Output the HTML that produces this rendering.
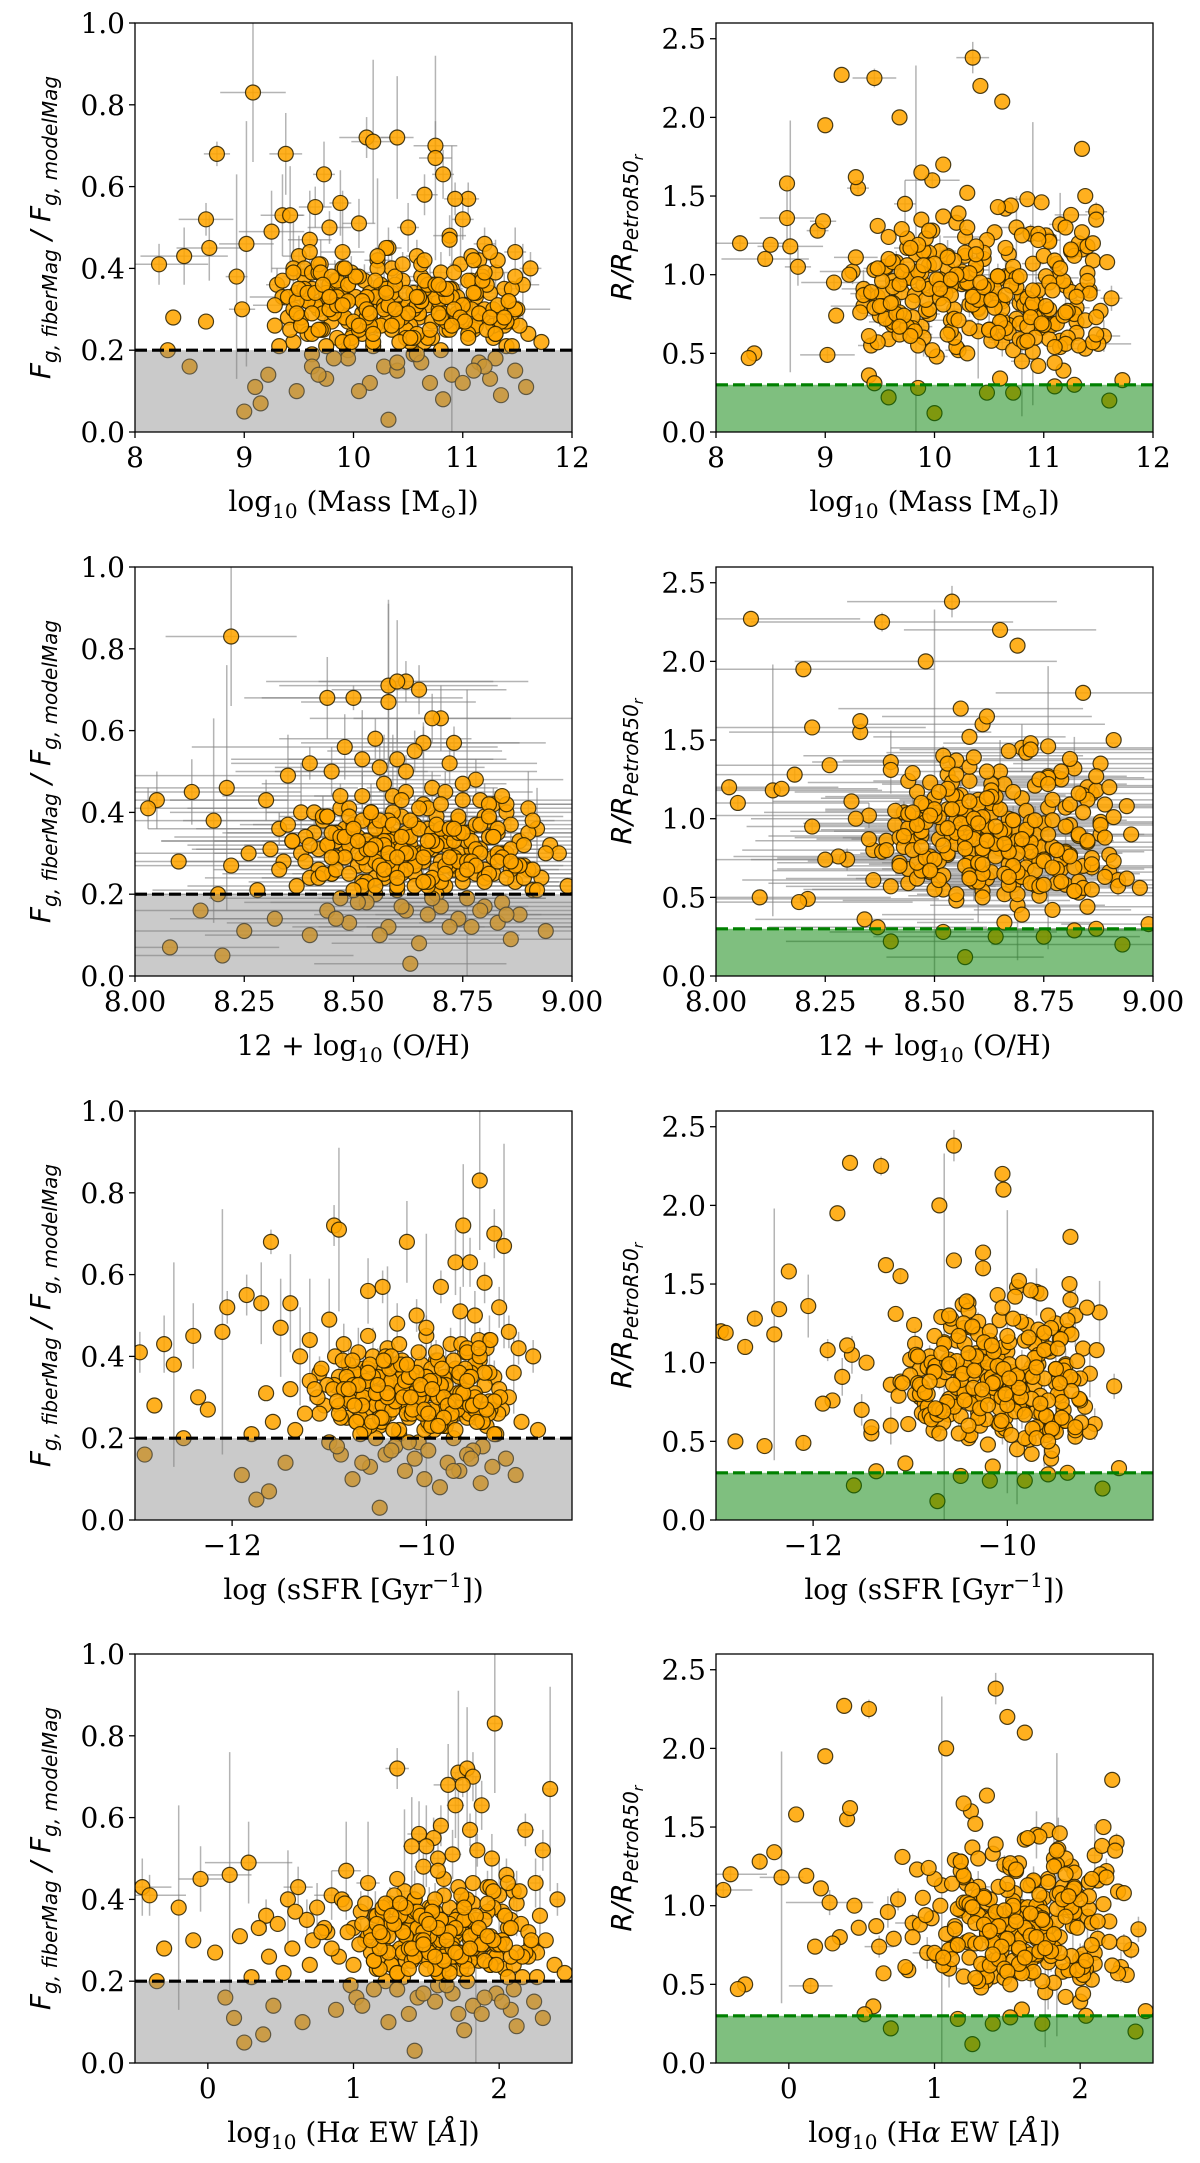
<!DOCTYPE html>
<html><head><meta charset="utf-8">
<style>
html,body{margin:0;padding:0;background:#fff;}
svg{display:block;}
.tick{font-family:"DejaVu Serif","Liberation Serif",serif;font-size:28px;fill:#000;}
.xl{font-family:"DejaVu Serif","Liberation Serif",serif;font-size:28px;fill:#000;}
.yl{font-family:"DejaVu Sans","Liberation Sans",sans-serif;font-size:28px;font-style:italic;fill:#000;}
</style></head>
<body>
<svg id="fig" width="1200" height="2163" viewBox="0 0 1200 2163" xmlns="http://www.w3.org/2000/svg">
<rect width="1200" height="2163" fill="#fff"/>
</svg>
<script>
// ---- galaxy data (shared across panels) ----
const fib = [0.83,0.72,0.71,0.72,0.70,0.68,0.68,0.67,0.63,0.63,0.58,0.57,0.57,0.56,0.55,0.53,0.53,0.52,0.52,0.51,
0.50,0.50,0.49,0.48,0.47,0.46,0.46,0.45,0.45,0.44,0.44,0.43,0.43,0.43,0.42,0.42,0.41,0.41,0.41,0.40,
0.40,0.40,0.39,0.39,0.39,0.38,0.38,0.38,0.37,0.37,0.37,0.37,0.36,0.36,0.36,0.36,0.35,0.35,0.35,0.35,
0.34,0.34,0.34,0.34,0.33,0.33,0.33,0.33,0.33,0.32,0.32,0.32,0.32,0.31,0.31,0.31,0.31,0.30,0.30,0.30,
0.30,0.30,0.29,0.29,0.29,0.29,0.28,0.28,0.28,0.28,0.27,0.27,0.27,0.27,0.26,0.26,0.26,0.26,0.25,0.25,
0.25,0.25,0.24,0.24,0.24,0.23,0.23,0.23,0.22,0.22,0.22,0.21,0.21,0.21,0.20,0.20,0.20,0.19,0.19,0.18,
0.18,0.17,0.17,0.16,0.16,0.16,0.15,0.15,0.14,0.14,0.13,0.13,0.12,0.12,0.11,0.11,0.10,0.10,0.09,0.08,
0.07,0.05,0.03,0.16,0.18,0.19,0.14,0.12,0.17,0.15,
0.36,0.31,0.27,0.42,0.33,0.29,0.24,0.38,0.35,0.30,0.26,0.40,0.32,0.28,0.23,0.37,0.34,0.29,0.25,0.44,
0.39,0.31,0.27,0.22,0.35,0.33,0.30,0.26,0.41,0.36,0.28,0.24,0.38,0.32,0.29,0.21,0.34,0.27,0.31,0.43,
0.30,0.25,0.36,0.33,0.28,0.39,0.26,0.35,0.32,0.23,0.37,0.29,0.34,0.27,0.31,0.40,0.24,0.33,0.30,0.36,
0.28,0.35,0.26,0.38,0.32,0.29,0.42,0.25,0.34,0.31,0.27,0.37,0.22,0.33,0.30,0.39,0.28,0.35,0.26,0.32,
0.31,0.27,0.35,0.24,0.38,0.29,0.33,0.26,0.41,0.30,0.22,0.36,0.28,0.34,0.25,0.39,0.32,0.27,0.45,0.30,
0.23,0.37,0.29,0.33,0.26,0.40,0.31,0.24,0.35,0.28,0.43,0.30,0.21,0.36,0.27,0.32,0.25,0.38,0.29,0.34,
0.26,0.31,0.39,0.23,0.35,0.28,0.33,0.47,0.30,0.25,0.37,0.29,0.32,0.22,0.36,0.27,0.34,0.41,0.30,0.24,
0.38,0.28,0.33,0.26,0.35,0.31,0.23,0.40,0.29,0.32,0.27,0.36,0.25,0.34,0.30,0.44,0.28,0.37,0.24,0.31,
0.33,0.26,0.39,0.29,0.35,0.22,0.32,0.28,0.42,0.30,0.25,0.36,0.27,0.34,0.31,0.23,0.38,0.29,0.33,0.26];
const rr = [0.95,1.12,0.78,0.64,1.30,0.88,1.05,0.72,1.45,0.58,0.99,1.22,0.83,0.67,1.08,0.91,0.55,1.36,0.76,1.15,
0.62,0.87,1.02,1.26,0.70,0.93,0.49,1.18,0.81,1.40,0.60,0.97,1.10,0.74,0.52,1.32,0.89,0.66,1.20,0.85,
2.38,2.25,0.45,1.60,0.79,1.04,0.57,1.28,0.92,0.69,1.13,0.84,1.55,0.61,1.00,0.75,1.24,0.53,0.96,1.07,
0.71,1.38,0.86,0.63,1.17,0.98,0.48,0.80,1.48,0.90,0.59,1.03,0.77,1.25,0.68,1.11,0.94,0.56,1.34,0.82,
2.20,2.00,1.80,1.70,1.65,0.42,0.39,0.36,0.34,0.50,1.58,1.52,0.73,1.09,0.65,0.88,1.21,0.54,0.97,0.80,
0.29,0.25,0.22,0.20,0.12,0.28,0.25,0.30,0.31,0.33,1.42,0.76,1.01,0.60,1.14,0.86,0.47,1.27,0.92,0.70,
1.06,0.83,0.58,1.19,0.95,0.68,1.35,0.78,1.00,0.51,0.89,1.23,0.64,1.44,0.74,1.08,0.93,0.57,1.16,0.81,
2.27,1.95,0.66,1.30,0.87,0.99,0.62,1.12,0.79,0.44,
1.02,0.72,0.90,1.20,0.61,0.84,1.37,0.96,0.55,1.10,0.77,1.05,0.69,0.93,1.28,0.59,0.87,1.00,0.74,1.15,
0.82,0.65,1.18,0.94,0.52,1.33,0.79,1.07,0.71,0.98,1.46,0.63,0.89,1.24,0.76,0.57,1.01,0.85,1.12,0.68,
0.91,1.29,0.60,1.04,0.80,0.73,1.50,0.95,0.66,1.13,0.87,0.54,1.22,0.78,0.99,1.39,0.70,0.92,0.62,1.06,
0.84,1.17,0.75,0.97,1.31,0.58,1.09,0.81,0.67,1.43,0.90,1.02,0.72,1.26,0.56,0.94,1.14,0.79,1.62,2.10,
0.88,1.05,0.72,0.95,1.18,0.64,0.82,1.00,0.76,1.12,0.58,0.91,1.25,0.69,0.85,1.03,0.78,0.96,1.30,0.61,
0.93,0.74,1.08,0.67,0.87,1.15,0.55,0.99,0.80,1.22,0.71,0.90,1.06,0.63,0.84,1.35,0.77,0.97,0.59,1.10,
0.86,0.68,1.02,0.79,1.20,0.62,0.94,0.73,1.14,0.89,0.66,1.04,0.81,0.52,0.98,1.27,0.75,0.92,0.60,1.09,
0.83,1.16,0.70,0.96,0.57,1.01,0.78,1.23,0.65,0.88,1.07,0.74,0.93,0.54,1.13,0.82,0.69,1.00,0.86,1.19,
0.63,0.91,0.76,1.04,0.58,0.95,1.28,0.71,0.87,1.11,0.67,0.99,0.80,0.50,1.06,0.84,0.73,0.97,1.17,0.90];
const mass = [9.08,10.12,10.18,10.40,10.75,9.38,8.75,10.75,9.73,10.82,10.65,11.05,10.93,9.88,9.65,9.35,9.42,8.65,11.00,10.05,
9.78,10.50,9.25,10.88,9.60,11.20,9.02,8.68,10.32,11.48,9.90,10.58,8.45,9.50,10.22,11.15,9.70,10.98,8.22,11.62,
10.35,9.45,10.80,9.98,11.30,9.55,10.62,8.93,10.10,11.08,9.83,10.45,9.30,11.55,10.70,9.95,10.28,11.38,9.62,10.90,
10.15,11.25,9.48,10.55,9.75,11.12,10.02,9.35,10.85,11.42,9.58,10.38,9.92,11.02,10.68,9.28,10.25,11.50,8.98,10.78,
10.42,9.68,11.35,10.08,9.88,10.95,11.18,9.40,10.60,8.35,8.65,10.30,9.80,11.45,10.52,9.52,11.05,10.20,9.72,10.85,
11.10,10.48,9.58,11.60,10.00,9.85,10.72,11.28,9.45,11.72,10.65,9.32,11.40,10.18,9.95,10.80,8.30,10.55,9.62,11.30,
9.95,10.62,11.15,8.50,10.28,9.62,11.48,10.40,9.22,10.90,11.25,9.75,10.15,10.70,9.10,11.58,10.05,9.48,11.35,10.82,
9.15,9.00,10.32,11.20,9.82,10.58,9.68,11.00,10.40,11.10,
10.25,9.65,10.95,11.32,9.40,10.60,10.08,11.18,9.85,10.45,11.52,9.55,10.78,10.15,9.98,11.05,10.35,9.72,10.88,11.25,
9.62,10.50,11.40,9.90,10.72,10.20,9.45,11.12,10.62,9.78,10.98,11.30,10.02,9.58,10.42,11.45,9.88,10.85,10.28,11.08,
10.55,9.70,11.22,10.12,9.52,10.92,11.38,10.30,9.80,10.68,9.35,11.15,10.48,9.95,11.02,10.22,9.62,10.75,11.48,10.38,
9.92,10.65,11.28,10.05,9.48,10.82,11.10,10.35,9.75,10.58,11.35,9.85,10.18,10.95,11.20,9.68,10.45,10.88,9.28,10.62,
10.10,10.72,9.55,11.05,10.38,9.82,10.90,10.25,9.68,11.28,10.52,9.95,10.80,11.12,10.05,9.45,10.62,11.40,10.30,9.78,
10.48,11.18,9.62,10.85,10.15,9.90,11.32,10.58,9.50,10.95,10.22,11.08,9.75,10.68,10.40,9.88,11.22,10.02,10.78,9.58,
10.35,11.00,9.70,10.55,11.45,10.12,9.85,10.88,10.28,9.42,10.65,11.15,10.08,9.98,10.75,11.35,9.65,10.45,10.92,10.18,
9.80,11.25,10.60,9.52,10.82,10.32,11.05,9.92,10.50,11.42,10.00,9.72,10.70,11.10,10.38,9.60,10.98,10.20,11.30,9.85,
10.58,10.05,11.20,9.48,10.85,10.42,9.95,11.38,10.65,10.12,9.68,10.78,11.02,10.30,9.90,10.52,11.48,10.15,9.78,10.90];
const oh = [8.22,8.62,8.58,8.60,8.65,8.44,8.50,8.58,8.70,8.68,8.55,8.66,8.73,8.48,8.64,8.60,8.52,8.40,8.72,8.56,
8.62,8.45,8.35,8.78,8.57,8.68,8.21,8.13,8.71,8.52,8.59,8.75,8.05,8.30,8.66,8.82,8.47,8.90,8.03,8.85,
8.54,8.38,8.69,8.61,8.80,8.43,8.74,8.18,8.57,8.86,8.50,8.64,8.33,8.92,8.67,8.49,8.58,8.83,8.41,8.76,
8.60,8.81,8.39,8.70,8.46,8.88,8.55,8.36,8.72,8.95,8.44,8.63,8.53,8.79,8.68,8.31,8.59,8.97,8.26,8.74,
8.65,8.48,8.84,8.56,8.62,8.77,8.70,8.34,8.66,8.10,8.22,8.58,8.51,8.89,8.69,8.42,8.73,8.61,8.45,8.78,
8.82,8.64,8.40,8.93,8.57,8.52,8.75,8.87,8.37,8.99,8.71,8.28,8.91,8.60,8.55,8.69,8.19,8.76,8.47,8.84,
8.53,8.70,8.80,8.15,8.62,8.44,8.88,8.67,8.32,8.74,8.83,8.49,8.58,8.72,8.25,8.94,8.56,8.40,8.86,8.65,
8.08,8.20,8.63,8.79,8.51,8.68,8.46,8.77,8.61,8.85,
8.57,8.42,8.73,8.85,8.36,8.66,8.55,8.81,8.50,8.63,8.90,8.41,8.71,8.59,8.53,8.78,8.62,8.46,8.75,8.84,
8.43,8.61,8.87,8.52,8.69,8.58,8.38,8.80,8.67,8.48,8.76,8.89,8.54,8.44,8.64,8.92,8.51,8.72,8.60,8.79,
8.66,8.45,8.83,8.57,8.39,8.74,8.91,8.62,8.49,8.70,8.35,8.82,8.63,8.53,8.77,8.59,8.42,8.71,8.94,8.65,
8.55,8.68,8.86,8.58,8.40,8.73,8.81,8.61,8.47,8.67,8.88,8.50,8.60,8.76,8.84,8.44,8.64,8.72,8.33,8.69,
8.58,8.71,8.46,8.80,8.63,8.52,8.77,8.60,8.49,8.85,8.67,8.55,8.74,8.82,8.57,8.44,8.69,8.88,8.62,8.51,
8.66,8.79,8.48,8.73,8.59,8.54,8.86,8.68,8.45,8.76,8.61,8.83,8.50,8.70,8.64,8.53,8.81,8.56,8.72,8.47,
8.62,8.78,8.49,8.67,8.90,8.58,8.53,8.75,8.63,8.43,8.69,8.84,8.57,8.55,8.72,8.87,8.48,8.65,8.79,8.60,
8.52,8.83,8.68,8.46,8.74,8.61,8.80,8.54,8.66,8.89,8.56,8.50,8.71,8.82,8.62,8.47,8.77,8.59,8.85,8.53,
8.67,8.57,8.81,8.45,8.75,8.64,8.55,8.86,8.70,8.58,8.49,8.73,8.78,8.61,8.54,8.66,8.91,8.60,8.51,8.76];
const ssfr = [-9.45,-10.95,-10.90,-9.62,-9.30,-10.20,-11.60,-9.20,-9.70,-9.55,-9.40,-10.45,-9.85,-10.60,-11.85,-11.70,-11.40,-12.05,-9.25,-9.65,
-10.10,-9.50,-11.00,-10.30,-11.50,-9.15,-12.10,-12.40,-10.00,-9.35,-11.20,-9.75,-12.70,-10.85,-10.40,-9.05,-10.70,-9.60,-12.95,-8.90,
-10.55,-11.30,-9.90,-10.25,-9.45,-10.80,-10.05,-12.60,-10.35,-9.70,-10.65,-9.95,-11.10,-9.10,-10.15,-10.50,-9.80,-9.30,-10.90,-10.00,
-9.85,-10.40,-11.20,-9.60,-10.75,-9.40,-10.20,-10.95,-9.90,-9.25,-11.40,-10.10,-10.60,-9.50,-10.30,-11.65,-9.95,-9.15,-12.35,-10.45,
-10.05,-10.70,-9.35,-10.25,-10.55,-9.75,-9.55,-11.05,-10.15,-12.80,-12.25,-9.88,-10.62,-9.22,-10.02,-11.10,-9.68,-10.38,-10.82,-9.48,
-9.58,-10.18,-11.58,-9.02,-10.72,-10.48,-9.82,-9.38,-11.35,-8.85,-9.92,-11.80,-9.28,-10.28,-10.52,-9.72,-12.50,-10.08,-11.00,-9.42,
-10.32,-9.98,-9.52,-12.90,-10.42,-10.88,-9.18,-10.12,-11.45,-9.78,-9.32,-10.58,-10.22,-9.66,-11.90,-9.08,-10.02,-10.76,-9.44,-9.86,
-11.62,-11.75,-10.48,-9.58,-10.92,-10.18,-10.66,-9.72,-10.36,-9.54,
-10.28,-10.82,-9.62,-9.38,-11.02,-10.14,-10.46,-9.50,-10.70,-10.04,-9.26,-10.94,-9.84,-10.22,-10.58,-9.70,-10.12,-10.78,-9.90,-9.46,
-10.86,-10.30,-9.34,-10.64,-9.82,-10.40,-11.12,-9.56,-10.08,-10.74,-9.76,-9.42,-10.20,-10.96,-10.34,-9.30,-10.62,-9.94,-10.44,-9.64,
-10.16,-10.68,-9.54,-10.26,-10.90,-9.88,-9.36,-10.50,-10.84,-9.98,-11.08,-9.60,-10.36,-10.06,-9.68,-10.42,-10.72,-9.80,-9.24,-10.24,
-10.52,-10.00,-9.44,-10.32,-11.15,-9.74,-9.58,-10.44,-10.80,-10.10,-9.40,-10.60,-10.28,-9.86,-9.50,-10.76,-10.18,-9.66,-11.25,-10.04,
-10.12,-9.68,-10.55,-9.42,-10.30,-10.78,-9.85,-10.20,-9.58,-10.65,-10.02,-9.35,-10.45,-9.92,-10.88,-9.72,-10.25,-9.50,-10.60,-10.08,
-9.80,-10.38,-9.62,-10.72,-10.15,-9.45,-10.50,-9.98,-10.82,-9.55,-10.28,-9.88,-10.68,-9.40,-10.35,-10.05,-9.75,-10.58,-9.30,-10.22,
-10.90,-9.65,-10.42,-9.95,-10.18,-9.52,-10.75,-10.00,-9.82,-10.48,-9.60,-10.32,-10.85,-9.70,-10.10,-9.38,-10.62,-9.90,-10.40,-9.48,
-10.26,-9.78,-10.70,-10.04,-9.56,-10.52,-9.86,-10.36,-9.44,-10.80,-10.14,-9.66,-10.46,-9.96,-10.24,-9.34,-10.66,-9.84,-10.56,-9.62,
-10.06,-9.74,-10.44,-10.92,-9.54,-10.34,-9.94,-10.74,-9.46,-10.16,-9.82,-10.60,-10.02,-9.58,-10.40,-9.88,-10.20,-9.70,-10.50,-9.98];
const ew = [1.97,1.30,1.72,1.78,1.82,1.65,1.75,2.35,1.70,1.88,1.60,2.18,1.80,1.45,1.55,1.50,1.40,1.85,2.30,1.68,
1.58,1.95,0.28,1.48,0.95,2.05,0.15,-0.05,1.62,2.25,1.10,1.92,-0.45,0.62,1.35,2.10,0.85,2.00,-0.40,2.40,
1.42,0.55,1.76,1.25,2.12,0.75,1.66,-0.20,1.38,2.02,1.05,1.56,0.40,2.28,1.72,1.15,1.52,2.08,0.68,1.84,
1.46,2.15,0.48,1.64,1.00,2.06,1.32,0.35,1.78,2.20,0.82,1.54,1.22,1.94,1.70,0.22,1.44,2.32,-0.10,1.80,
1.50,1.08,2.22,1.36,1.20,1.90,2.00,0.58,1.60,-0.30,0.05,1.28,1.12,2.26,1.66,0.90,1.96,1.48,1.18,1.86,
1.52,1.40,0.70,2.38,1.26,1.16,1.74,2.04,0.52,2.45,1.62,0.30,2.16,1.34,1.22,1.78,-0.35,1.58,0.98,2.10,
1.30,1.68,1.98,0.12,1.44,1.02,2.24,1.56,0.45,1.82,2.08,0.88,1.38,1.72,0.18,2.30,1.24,0.65,2.12,1.76,
0.38,0.25,1.42,1.90,1.14,1.64,1.06,1.88,1.48,2.02,
1.36,1.10,1.84,2.14,0.80,1.58,1.26,1.96,1.20,1.50,2.20,0.92,1.70,1.32,1.18,1.92,1.46,1.04,1.80,2.06,
1.08,1.54,2.18,1.30,1.74,1.40,0.72,1.98,1.62,1.16,1.86,2.10,1.28,0.96,1.52,2.26,1.22,1.76,1.44,1.94,
1.60,1.14,2.04,1.38,0.85,1.82,2.16,1.48,1.12,1.66,0.60,2.00,1.56,1.24,1.90,1.42,1.00,1.72,2.22,1.34,
1.46,1.78,2.08,1.52,0.78,1.68,1.96,1.36,1.06,1.64,2.12,1.20,1.58,1.84,2.02,0.94,1.50,1.70,0.42,1.62,
1.52,1.34,1.76,1.62,1.20,1.88,1.44,1.70,1.28,1.96,1.58,1.38,1.82,1.66,1.14,1.92,1.48,1.74,1.30,2.02,
1.56,1.42,1.86,1.24,1.68,1.78,1.36,1.94,1.60,1.18,1.72,1.46,2.06,1.32,1.64,1.84,1.40,1.54,1.98,1.26,
1.62,1.80,1.22,1.50,1.90,1.38,1.70,1.58,1.12,1.76,1.44,2.00,1.66,1.30,1.84,1.52,1.16,1.74,1.48,1.94,
1.36,1.68,1.86,1.42,1.60,1.24,1.78,1.56,2.04,1.34,1.72,1.46,1.90,1.28,1.64,1.82,1.40,1.54,1.98,1.20,
1.58,1.74,1.32,1.88,1.50,1.66,1.18,1.80,1.44,1.96,1.62,1.26,1.70,1.52,1.92,1.38,1.76,1.48,2.08,1.56];
// error half-widths (for the first galaxies listed)
const fibErr = [0.17,0.05,0.2,0.15,0.06,0.1,0.03,0.25,0.08,0.06,0.05,0.04,0.04,0.08,0.05,0.1,0.12,0.04,0.05,0.06,0.04,0.06,0.1,0.05,0.12,0.04,0.3,0.08,0.05,0.06,0.15,0.04,0.07,0.05,0.2,0.04,0.06,0.09,0.05,0.04,0.07,0.12,0.05,0.04,0.08,0.06,0.05,0.25,0.04,0.06,0.05,0.07,0.04,0.1,0.05,0.06,0.08,0.04,0.05,0.35];
const rrErr = [0.05,0.1,0.05,0.3,0.2,0.08,0.12,0.06,0.15,0.05,0.1,0.08,0.25,0.05,0.07,0.12,0.04,0.2,0.06,0.1,0.05,0.3,0.08,0.06,0.1,0.15,0.05,0.8,0.08,0.06,0.12,0.1,0.05,0.07,0.04,0.2,0.06,0.1,0.05,0.08,0.1,0.06,0.35,0.05,0.12,0.07,0.09,0.05,0.1,0.06,1.2,0.08,0.05,0.1,0.06,0.15,0.07,0.05,0.1,0.9];
const massErr = [0.3,0.25,0.2,0.15,0.2,0.15,0.12,0.15,0.1,0.1,0.12,0.1,0.1,0.1,0.15,0.2,0.12,0.25,0.1,0.15,0.2,0.1,0.3,0.15,0.2,0.1,0.25,0.3,0.12,0.1,0.2,0.1,0.4,0.15,0.12,0.1,0.2,0.1,0.45,0.1,0.15,0.2,0.1,0.25,0.12,0.2,0.15,0.1,0.3,0.1,0.12,0.2,0.1,0.15,0.3,0.1,0.2,0.12,0.15,0.1,
0.2,0.15,0.1,0.25,0.12,0.2,0.1,0.3,0.15,0.1,0.2,0.12,0.25,0.1,0.15,0.2,0.1,0.3,0.12,0.15];
const ohErr = [0.15,0.2,0.25,0.3,0.2,0.15,0.25,0.2,0.3,0.18,0.22,0.28,0.15,0.35,0.2,0.25,0.3,0.18,0.2,0.24,
0.3,0.22,0.35,0.2,0.28,0.15,0.3,0.25,0.2,0.32,0.18,0.26,0.3,0.22,0.2,0.28,0.35,0.15,0.25,0.2,
0.24,0.3,0.2,0.28,0.18,0.32,0.22,0.25,0.3,0.2,0.26,0.18,0.3,0.24,0.2,0.35,0.22,0.28,0.2,0.3,
0.25,0.2,0.3,0.18,0.28,0.22,0.26,0.3,0.2,0.24,0.32,0.2,0.28,0.22,0.3,0.18,0.25,0.2,0.3,0.26,
0.22,0.3,0.2,0.28,0.24,0.18,0.32,0.25,0.2,0.3,0.26,0.22,0.3,0.2,0.28,0.24,0.3,0.2,0.25,0.3,
0.2,0.28,0.24,0.3,0.18,0.26,0.22,0.3,0.25,0.2,0.32,0.24,0.28,0.2,0.3,0.22,0.26,0.18,0.3,0.24,
0.28,0.2,0.3,0.22,0.25,0.3,0.2,0.26,0.24,0.3,0.18,0.28,0.22,0.3,0.25,0.2,0.32,0.24,0.28,0.2,
0.25,0.3,0.22,0.28,0.2,0.26,0.3,0.24,0.18,0.3,0.22,0.28,0.25,0.2,0.3,0.24,0.26,0.2,0.3,0.22];
const ewErr = [0.05,0.08,0.04,0.06,0.05,0.1,0.04,0.05,0.06,0.04,0.05,0.06,0.04,0.08,0.05,0.04,0.06,0.05,0.04,0.06,0.05,0.04,0.3,0.06,0.1,0.04,0.15,0.15,0.05,0.04,0.08,0.05,0.2,0.1,0.06,0.04,0.12,0.05,0.25,0.04];

const yTicksFib = ["0.0","0.2","0.4","0.6","0.8","1.0"];
const yTicksRR = ["0.0","0.5","1.0","1.5","2.0","2.5"];
const xTicksMass = [8,9,10,11,12];
const xTicksOH = ["8.00","8.25","8.50","8.75","9.00"];
const xTicksSSFR = [-12,-10];
const xTicksEW = [0,1,2];

const NS = "http://www.w3.org/2000/svg";
const svg = document.getElementById('fig');
function mk(tag, attrs, parent){
  const e = document.createElementNS(NS, tag);
  for (const k in attrs) e.setAttribute(k, attrs[k]);
  (parent||svg).appendChild(e);
  return e;
}
const rowTop = [23,567,1111,1654], colLeft = [135,716], W = 437, H = 409;

const rows = [
  {x:mass, xe:massErr, dom:[8,12], ticks:xTicksMass, name:'mass'},
  {x:oh, xe:ohErr, dom:[8,9], ticks:xTicksOH, name:'metallicity'},
  {x:ssfr, xe:null, dom:[-13,-8.5], ticks:xTicksSSFR, name:'ssfr'},
  {x:ew, xe:ewErr, dom:[-0.5,2.5], ticks:xTicksEW, name:'halpha-ew'}
];
const cols = [
  {y:fib, ye:fibErr, dom:[0,1], ticks:yTicksFib, thr:0.2, shade:'rgba(128,128,128,0.42)', line:'#000', name:'fiber-ratio'},
  {y:rr, ye:rrErr, dom:[0,2.6], ticks:yTicksRR, thr:0.3, shade:'rgba(0,128,0,0.5)', line:'#008000', name:'radius-ratio'}
];

function xlabel(g, r, cx, y){
  const t = mk('text', {class:'xl', x:cx, y:y, 'text-anchor':'middle'}, g);
  
  
  const parts = [
    [ ['log',0],['10',1],[' (Mass [M',0],['⊙',1],['])',0] ],
    [ ['12 + log',0],['10',1],[' (O/H)',0] ],
    [ ['log (sSFR [Gyr',0],['−1',2],['])',0] ],
    [ ['log',0],['10',1],[' (H',0],['α',3],[' EW [',0],['Å',3],['])',0] ]
  ][r];
  let shift = 0;
  parts.forEach(p=>{
    const s = mk('tspan', {}, t);
    s.textContent = p[0];
    let d = 0;
    if (p[1]===1){ s.setAttribute('font-size','20'); d = 7; }
    if (p[1]===2){ s.setAttribute('font-size','20'); d = -12; }
    if (p[1]===3){ s.setAttribute('font-style','italic'); }
    if (d-shift!==0) s.setAttribute('dy', d-shift);
    shift = d;
  });
}
function ylabel(g, c, cx, cy){
  const t = mk('text', {class:'yl', transform:`translate(${cx},${cy}) rotate(-90)`, 'text-anchor':'middle'}, g);
  
  
  const parts = c===0 ?
    [ ['F',0],['g, fiberMag',1],[' / ',0],['F',0],['g, modelMag',1] ] :
    [ ['R/R',0],['PetroR50',1],['r',2] ];
  let shift = 0;
  parts.forEach(p=>{
    const s = mk('tspan', {}, t);
    s.textContent = p[0];
    let d = 0;
    if (p[1]===1){ s.setAttribute('font-size','20'); d = 7; }
    if (p[1]===2){ s.setAttribute('font-size','14'); d = 12; }
    if (d-shift!==0) s.setAttribute('dy', d-shift);
    shift = d;
  });
}

rows.forEach((R, ri)=>{
  cols.forEach((C, ci)=>{
    const L = colLeft[ci], T = rowTop[ri];
    const g = mk('g', {});
    
    
    const sx = v => L + (v - R.dom[0]) / (R.dom[1]-R.dom[0]) * W;
    const sy = v => T + H - (v - C.dom[0]) / (C.dom[1]-C.dom[0]) * H;
    const clip = mk('clipPath', {id:`clip${ri}${ci}`}, g);
    mk('rect', {x:L, y:T, width:W, height:H}, clip);
    const plot = mk('g', {'clip-path':`url(#clip${ri}${ci})`}, g);
    
    
    const n = Math.min(R.x.length, C.y.length);
    for (let i=0;i<n;i++){
      const px = sx(R.x[i]), py = sy(C.y[i]);
      if (i < C.ye.length){
        const e = mk('line', {x1:px, x2:px, y1:sy(C.y[i]-C.ye[i]), y2:sy(C.y[i]+C.ye[i]), stroke:'rgba(130,130,130,0.6)', 'stroke-width':1.5}, plot);
        
        
      }
      if (R.xe && i < R.xe.length){
        const e = mk('line', {y1:py, y2:py, x1:sx(R.x[i]-R.xe[i]), x2:sx(R.x[i]+R.xe[i]), stroke:'rgba(130,130,130,0.6)', 'stroke-width':1.5}, plot);
        
        
      }
    }
    for (let i=0;i<n;i++){
      const p = mk('circle', {cx:sx(R.x[i]), cy:sy(C.y[i]), r:7.5, fill:'rgba(255,165,0,0.88)', stroke:'rgba(40,30,0,0.85)', 'stroke-width':1.2}, plot);
      
      
    }
    const sh = mk('rect', {x:L, y:sy(C.thr), width:W, height:T+H-sy(C.thr), fill:C.shade}, plot);
    
    
    const tl = mk('line', {x1:L, x2:L+W, y1:sy(C.thr), y2:sy(C.thr), stroke:C.line, 'stroke-width':3.2, 'stroke-dasharray':'12,5'}, plot);
    
    
    const fr = mk('rect', {x:L, y:T, width:W, height:H, fill:'none', stroke:'#000', 'stroke-width':1.3}, g);
    
    
    C.ticks.forEach(tv=>{
      const y = sy(parseFloat(tv));
      const tk = mk('line', {x1:L-6, x2:L, y1:y, y2:y, stroke:'#000', 'stroke-width':1.3}, g);
      
      
      const tt = mk('text', {class:'tick', x:L-10, y:y+10, 'text-anchor':'end'}, g);
      tt.textContent = tv;
      
      
    });
    R.ticks.forEach(tv=>{
      const x = sx(parseFloat(tv));
      const tk = mk('line', {x1:x, x2:x, y1:T+H, y2:T+H+6, stroke:'#000', 'stroke-width':1.3}, g);
      
      
      const tt = mk('text', {class:'tick', x:x, y:T+H+35, 'text-anchor':'middle'}, g);
      tt.textContent = (typeof tv==='number' && tv<0) ? '−'+Math.abs(tv) : String(tv);
      
      
    });
    xlabel(g, ri, L+W/2, T+H+79);
    ylabel(g, ci, L-85, T+H/2);
  });
});
</script>
</body></html>
